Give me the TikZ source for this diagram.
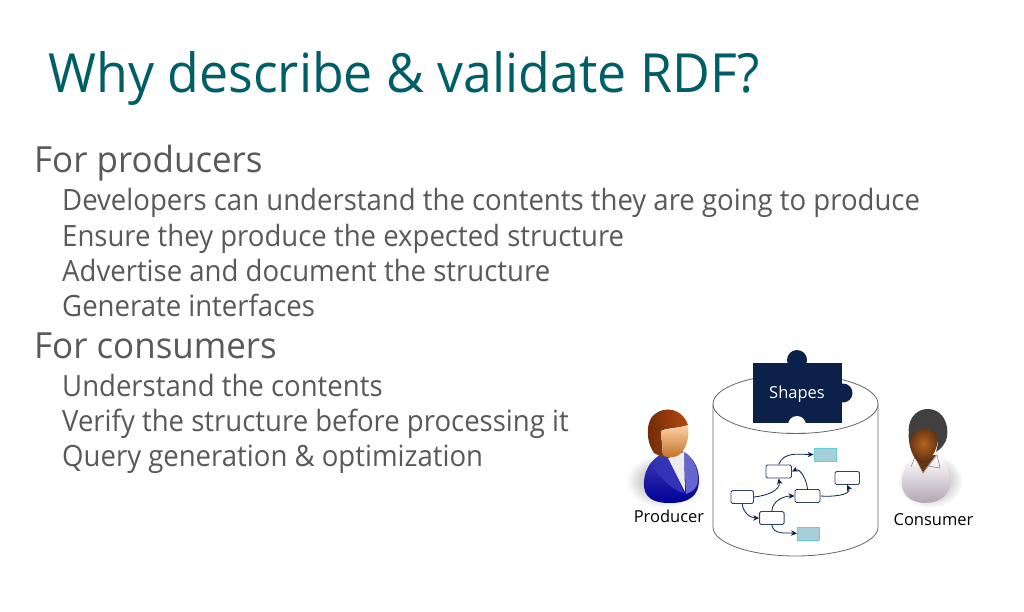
\documentclass[tikz,border=0pt]{standalone}
\usepackage{fontspec}
\setmainfont{Open Sans}
\newfontfamily\titlef[FakeStretch=0.96]{Open Sans}
\newfontfamily\headf[FakeStretch=0.97]{Open Sans}
\newfontfamily\capf{Open Sans}
\newfontfamily\bodyf[FakeStretch=0.94]{Open Sans}
\usetikzlibrary{arrows.meta}
\definecolor{titlec}{HTML}{005F66}
\definecolor{bodyc}{HTML}{595959}
\definecolor{navy}{HTML}{0B2149}
\definecolor{tfill}{HTML}{A6CFDA}
\definecolor{tline}{HTML}{62CFD8}
\definecolor{hairA}{HTML}{6E2A08}
\definecolor{hairB}{HTML}{B5480F}
\definecolor{skinA}{HTML}{B4641E}
\definecolor{skinB}{HTML}{5A2D10}
\tikzset{
 x=1pt,y=-1pt,
 titletxt/.style={anchor=base west,inner sep=0,text=titlec,font=\titlef\fontsize{54}{54}\selectfont},
 lone/.style={anchor=base west,inner sep=0,text=bodyc,font=\headf\fontsize{36}{36}\selectfont},
 ltwo/.style={anchor=base west,inner sep=0,text=bodyc,font=\bodyf\fontsize{29.3}{29.3}\selectfont},
 captxt/.style={anchor=base,inner sep=0,text=black,font=\capf\fontsize{16.5}{16.5}\selectfont},
 gnode/.style={draw=navy!85,line width=0.9pt,rounded corners=1.5pt,fill=white,minimum width=#1,minimum height=13pt,inner sep=0},
 tnode/.style={draw=tline,line width=0.9pt,fill=tfill,minimum width=22pt,minimum height=13pt,inner sep=0},
 garrow/.style={-{Stealth[length=6pt,width=5.5pt]},draw=navy,line width=0.8pt},
}
\begin{document}
\begin{tikzpicture}
\useasboundingbox[fill=white] (0,0) rectangle (1024,612);
\node[titletxt] (title) at (48,93) {Why describe \& validate RDF?};
\node[lone] (p0) at (34,173) {For producers};
\node[ltwo] (p1) at (62,211) {Developers can understand the contents they are going to produce};
\node[ltwo] (p2) at (62,246) {Ensure they produce the expected structure};
\node[ltwo] (p3) at (62,281) {Advertise and document the structure};
\node[ltwo] (p4) at (62,316) {Generate interfaces};
\node[lone] (c0) at (34,358) {For consumers};
\node[ltwo] (c1) at (62,396) {Understand the contents};
\node[ltwo] (c2) at (62,431) {Verify the structure before processing it};
\node[ltwo] (c3) at (62,466) {Query generation \& optimization};

% cylinder
\draw[draw=black!60,line width=0.8pt,fill=white] (713,404) -- (713,527)
  arc[start angle=180,end angle=0,x radius=82.5,y radius=29] -- (878,404);
\draw[draw=black!60,line width=0.8pt,fill=white] (795.5,404) ellipse[x radius=82.5,y radius=29.5];

% puzzle piece
\fill[navy] (753,363) rectangle (842,423);
\fill[navy] (797,360) circle[radius=10];
\fill[navy] (843,393) circle[radius=9.5];
\fill[white] (797,425) circle[radius=9];
\fill[white] (786,423.4) rectangle (808,428);
\draw[draw=black!60,line width=0.8pt] (786,433.2) .. controls (792,433.5) and (800,433.5) .. (806,433.2);
\node[inner sep=0,text=white,font=\capf\fontsize{16.5}{16.5}\selectfont] (shapes) at (797,394) {Shapes};

% graph
\node[gnode=22.5pt] (n1) at (742.2,497) {};
\node[gnode=24.5pt] (n2) at (771.8,518) {};
\node[gnode=25.5pt] (n3) at (778.7,471.5) {};
\node[gnode=25pt] (n4) at (807.5,496) {};
\node[gnode=24.5pt] (n5) at (847.2,478) {};
\node[tnode] (t1) at (825,454.5) {};
\node[tnode] (t2) at (808.5,533.5) {};
\draw[garrow] (n1.east) to[out=5,in=-80] (n3.south);
\draw[garrow] (n1.south) to[out=-85,in=180] (n2.west);
\draw[garrow] (n2.north) to[out=85,in=180] (n4.west);
\draw[garrow] (n4.north) to[out=95,in=25] (n3.east);
\draw[garrow] (n4.east) to[out=-5,in=-65] (n5.south);
\draw[garrow] (n3.north) to[out=70,in=180] (t1.west);
\draw[garrow] (n2.south) to[out=-80,in=175] (t2.west);

% producer
\shade[inner color=black!45,outer color=white] (664,481) ellipse[x radius=38,y radius=27];
\shade[top color=blue!60!black!75!white,bottom color=blue!60!black]
  (668,451) .. controls (655,456) and (645,465) .. (644,482)
  .. controls (643,497) and (652,503) .. (670,503)
  .. controls (690,503) and (699,495) .. (699,480)
  .. controls (699,466) and (692,456) .. (682,451) -- cycle;
\fill[blue!50!white!80!black] (684,452) .. controls (693,457) and (698,468) .. (698,480)
  .. controls (698,487) and (693,492) .. (686,494) -- cycle;
\fill[blue!65!black!80!white] (652,466) -- (668,458) -- (684,493) .. controls (672,490) and (660,478) .. (652,466) -- cycle;
\fill[black!8] (668,458) -- (684,452) -- (685,492) -- cycle;
\shade[left color=hairA,right color=hairB]
  (654,453) .. controls (645,440) and (646,420) .. (655,414)
  .. controls (665,406) and (682,408) .. (688,425)
  .. controls (680,428) and (665,428) .. (661,431) -- (663,457) .. controls (660,456) and (657,455) .. (654,453) -- cycle;
\shade[top color=orange!35!white,bottom color=orange!70!black!85]
  (661,431) .. controls (666,428) and (680,429) .. (688,425)
  .. controls (690,440) and (685,452) .. (677,456)
  .. controls (672,458) and (666,458) .. (663,455) -- cycle;
\node[captxt] (producer) at (669,522) {Producer};

% consumer
\shade[inner color=black!45,outer color=white] (930,481) ellipse[x radius=33,y radius=27];
\shade[top color=white,bottom color=violet!30!black!35]
  (915,456) .. controls (906,462) and (901,475) .. (902,485)
  .. controls (903,498) and (915,503) .. (925,503)
  .. controls (940,503) and (950,495) .. (950,482)
  .. controls (950,470) and (946,462) .. (938,456) -- cycle;
\draw[black!50,line width=0.5pt] (911,467) -- (915,457) -- (923,473) -- (937,455) -- (940,468) -- (928,466);
\fill[skinB!85!skinA] (915,457) -- (923,472) -- (936,455) -- cycle;
\shade[inner color=skinA,outer color=skinB]
  (909,430) .. controls (918,425) and (932,427) .. (938,430)
  .. controls (940,445) and (932,463) .. (922,463)
  .. controls (914,463) and (907,445) .. (909,430) -- cycle;
\fill[black!75] (910,438) .. controls (905,422) and (915,408) .. (929,409)
  .. controls (943,410) and (949,424) .. (947,437)
  .. controls (946,443) and (941,449) .. (936,452)
  .. controls (939,442) and (938,435) .. (935,432)
  .. controls (925,424) and (915,430) .. (910,438) -- cycle;
\node[captxt] (consumer) at (933.5,525) {Consumer};
\end{tikzpicture}
\end{document}
